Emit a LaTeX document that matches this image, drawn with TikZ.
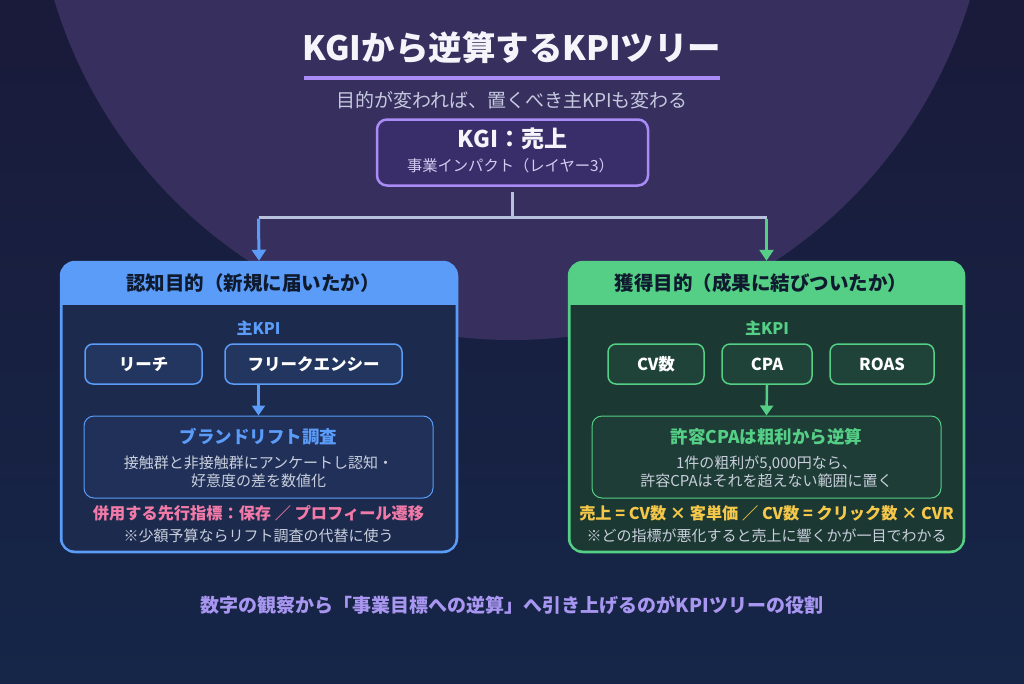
\documentclass[tikz,border=0pt]{standalone}
\usepackage{fontspec}
\setmainfont{Noto Sans CJK JP}
\usetikzlibrary{arrows.meta}
\definecolor{bgtop}{HTML}{1A1A3A}
\definecolor{bgbot}{HTML}{152648}
\definecolor{circc}{HTML}{37305F}
\definecolor{titlec}{HTML}{F4F4FA}
\definecolor{purp}{HTML}{A98CF5}
\definecolor{subc}{HTML}{C6C8E0}
\definecolor{kgisub}{HTML}{D4CCF2}
\definecolor{kgifill}{HTML}{3A2E6A}
\definecolor{conn}{HTML}{B8C2DC}
\definecolor{blu}{HTML}{5A9CF8}
\definecolor{blubody}{HTML}{1C2A4D}
\definecolor{blupill}{HTML}{23365F}
\definecolor{bluinner}{HTML}{203059}
\definecolor{grn}{HTML}{55CF86}
\definecolor{grnbody}{HTML}{1B3832}
\definecolor{grnpill}{HTML}{1F4338}
\definecolor{grninner}{HTML}{1E3D36}
\definecolor{hdtext}{HTML}{0F1A2E}
\definecolor{pinkc}{HTML}{F27AA8}
\definecolor{yelc}{HTML}{F5C84A}
\definecolor{grayt}{HTML}{C9CFDC}
\definecolor{footc}{HTML}{A896F0}
\begin{document}
\begin{tikzpicture}[x=1pt,y=-1pt,
  txt/.style={inner sep=0pt, outer sep=0pt},
  panel/.style={draw=#1, fill=#1, line width=2.5pt, rounded corners=14pt, inner sep=0pt},
  pill/.style={draw=#1, line width=1.5pt, rounded corners=8pt, minimum height=40pt, inner sep=0pt,
    text=white, font=\bfseries\fontsize{16.5}{19}\selectfont},
  innerbox/.style={draw=#1, line width=1pt, rounded corners=10pt, minimum width=349pt, minimum height=82pt, inner sep=0pt},
  hd/.style={txt, text=hdtext, font=\bfseries\fontsize{19.5}{22}\selectfont},
  kpi/.style={txt, text=#1, font=\bfseries\fontsize{16}{19}\selectfont},
  ititle/.style={txt, text=#1, font=\bfseries\fontsize{17.5}{20}\selectfont},
  ibody/.style={txt, text=grayt, align=center, font=\fontsize{15}{18}\selectfont},
  note/.style={txt, text=grayt, font=\fontsize{15}{18}\selectfont},
  lead/.style={txt, text=#1, font=\bfseries\fontsize{16.2}{18}\selectfont},
  conline/.style={draw=conn, line width=3pt},
  arr/.style={draw=#1, line width=3pt, -{Triangle[width=14pt,length=11pt]}},
  sarr/.style={draw=#1, line width=2.5pt, -{Triangle[width=13pt,length=10pt]}}
]
\useasboundingbox (0,0) rectangle (1024,683);
\shade[top color=bgtop, bottom color=bgbot] (0,0) rectangle (1024,683);
\begin{scope}
  \clip (0,0) rectangle (1024,683);
  \fill[circc] (512,-138) circle[radius=478];
\end{scope}

% title
\node[txt, text=titlec, font=\bfseries\fontsize{33.5}{36}\selectfont] (title) at (512,48) {KGIから逆算するKPIツリー};
\draw[purp, line width=3.5pt] (304,78) -- (720,78);
\node[txt, text=subc, font=\fontsize{19}{22}\selectfont] (sub) at (512,100) {目的が変われば、置くべき主KPIも変わる};

% KGI box
\node[draw=purp, fill=kgifill, line width=2.5pt, rounded corners=10pt, minimum width=271pt, minimum height=66pt, inner sep=0pt] (kgi) at (512.5,152.5) {};
\node[txt, text=titlec, font=\bfseries\fontsize{23}{26}\selectfont] (kgit) at (512.5,139) {KGI：売上};
\node[txt, text=kgisub, font=\fontsize{15.3}{18}\selectfont] (kgis) at (510.5,166) {事業インパクト（レイヤー3）};

% panels
\node[panel=blu, minimum width=396pt, minimum height=290pt] (L) at (259,407) {};
\node[panel=grn, minimum width=395pt, minimum height=290pt] (R) at (766.5,407) {};
\fill[blubody] (62.5,305) [rounded corners=12pt] -- (62.5,550.5) -- (455.5,550.5) [sharp corners] -- (455.5,305) -- cycle;
\fill[grnbody] (570.5,305) [rounded corners=12pt] -- (570.5,550.5) -- (962.5,550.5) [sharp corners] -- (962.5,305) -- cycle;

% connectors
\coordinate (jc) at (512.5,217);
\coordinate (jl) at (258.5,217);
\coordinate (jr) at (766.5,217);
\draw[conline] ([yshift=-5pt]kgi.south) -- (jc);
\draw[conline] (jl) -- (jr);
\draw[arr=blu] ([yshift=-1.5pt]jl) -- (L.north);
\draw[arr=grn] ([yshift=-1.5pt]jr) -- (R.north);

% headers
\node[hd] (Lh) at (253,283) {認知目的（新規に届いたか）};
\node[hd] (Rh) at (761,283) {獲得目的（成果に結びついたか）};

\node[kpi=blu] (Lk) at (258.5,328) {主KPI};
\node[kpi=grn] (Rk) at (767,328) {主KPI};

% pills
\node[pill=blu, fill=blupill, minimum width=117pt] (reach) at (143.5,364) {リーチ};
\node[pill=blu, fill=blupill, minimum width=177pt] (freq) at (313.5,364) {フリークエンシー};
\node[pill=grn, fill=grnpill, minimum width=96pt] (cv) at (656,364) {CV数};
\node[pill=grn, fill=grnpill, minimum width=90pt] (cpa) at (767,364) {CPA};
\node[pill=grn, fill=grnpill, minimum width=104pt] (roas) at (882,364) {ROAS};

% inner boxes
\node[innerbox=blu, fill=bluinner] (brand) at (258.5,457) {};
\node[innerbox=grn, fill=grninner] (allow) at (766.5,457) {};
\coordinate (la) at (258.5,384);
\draw[sarr=blu] (la) -- (brand.north);
\draw[sarr=grn] (cpa.south) -- (allow.north);

\node[ititle=blu] (brandt) at (258.5,437) {ブランドリフト調査};
\node[ibody] (brandb) at (258.5,472) {接触群と非接触群にアンケートし認知・\\好意度の差を数値化};
\node[ititle=grn] (allowt) at (766.5,437) {許容CPAは粗利から逆算};
\node[ibody] (allowb) at (766.5,472) {1件の粗利が5,000円なら、\\許容CPAはそれを超えない範囲に置く};

\node[lead=pinkc] (Llead) at (258.5,513) {併用する先行指標：保存 ／ プロフィール遷移};
\node[note] (Lnote) at (258.5,536) {※少額予算ならリフト調査の代替に使う};
\node[lead=yelc] (Rlead) at (766.5,513) {売上 = CV数 × 客単価 ／ CV数 = クリック数 × CVR};
\node[note] (Rnote) at (766.5,536) {※どの指標が悪化すると売上に響くかが一目でわかる};

% footer
\node[txt, text=footc, font=\bfseries\fontsize{19}{22}\selectfont] (foot) at (512,605) {数字の観察から「事業目標への逆算」へ引き上げるのがKPIツリーの役割};
\end{tikzpicture}
\end{document}
